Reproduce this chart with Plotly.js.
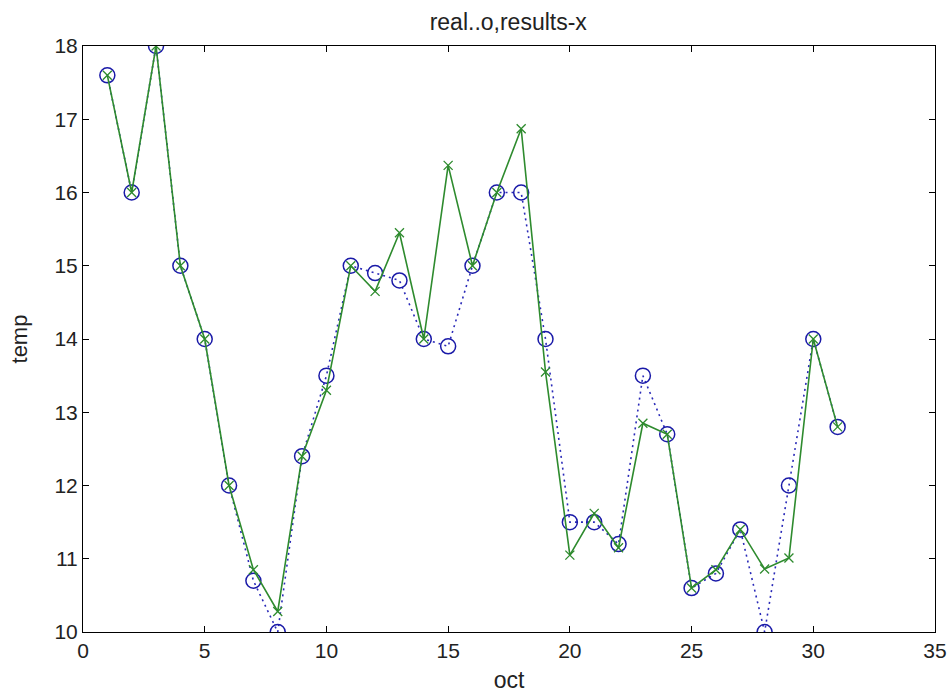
<!DOCTYPE html>
<html>
<head>
<meta charset="utf-8">
<script src="https://cdn.plot.ly/plotly-3.0.1.min.js"></script>
<style>html,body{margin:0;padding:0;background:#fff;}#chart{width:950px;height:695px;}</style>
</head>
<body>
<div id="chart"></div>
<script>
const days = [1,2,3,4,5,6,7,8,9,10,11,12,13,14,15,16,17,18,19,20,21,22,23,24,25,26,27,28,29,30,31];
const realTemp = [17.6,16,18,15,14,12,10.7,10,12.4,13.5,15,14.9,14.8,14,13.9,15,16,16,14,11.5,11.5,11.2,13.5,12.7,10.6,10.8,11.4,10,12,14,12.8];
const resultTemp = [17.6,16,18,15,14,12,10.85,10.28,12.4,13.3,15,14.65,15.45,14,16.37,15,16,16.87,13.55,11.05,11.62,11.15,12.85,12.7,10.6,10.85,11.4,10.86,11.01,14,12.8];
const xTicks = [0,5,10,15,20,25,30,35];
const yTicks = [10,11,12,13,14,15,16,17,18];

const FONT = 'Liberation Sans, Arial, sans-serif';

const traces = [
  {x: days, y: realTemp, mode: 'lines+markers', name: 'real',
   line: {color: '#2a2ab8', width: 1.6, dash: '2px,4px'},
   marker: {symbol: 'circle-open', size: 15, color: '#1a1aa8', line: {width: 1.5, color: '#1a1aa8'}}},
  {x: days, y: resultTemp, mode: 'lines+markers', name: 'results',
   line: {color: '#2e8b2e', width: 1.6},
   marker: {symbol: 'x-thin-open', size: 9, color: '#2e8b2e', line: {width: 1.3, color: '#2e8b2e'}}}
];

const axisCommon = {
  showgrid: false, zeroline: false, showline: true, linecolor: '#000', linewidth: 1,
  mirror: 'ticks', ticks: 'inside', ticklen: 6, tickcolor: '#000',
  tickfont: {family: FONT, size: 21, color: '#222'}
};

const layout = {
  width: 950, height: 695,
  margin: {l: 83, r: 15, t: 46, b: 63},
  paper_bgcolor: '#fff', plot_bgcolor: '#fff',
  showlegend: false,
  title: {text: 'real..o,results-x', x: 0.535, xanchor: 'center', y: 0.98, yanchor: 'top',
          font: {family: FONT, size: 23, color: '#222'}},
  xaxis: Object.assign({}, axisCommon, {range: [0, 35], tickvals: xTicks, ticktext: xTicks.map(String),
          title: {text: 'oct', standoff: 10, font: {family: FONT, size: 23, color: '#222'}}}),
  yaxis: Object.assign({}, axisCommon, {range: [10, 18], tickvals: yTicks, ticktext: yTicks.map(String),
          title: {text: 'temp', standoff: 20, font: {family: FONT, size: 22, color: '#222'}}})
};

Plotly.newPlot('chart', traces, layout, {displayModeBar: false, staticPlot: true});
</script>
</body>
</html>
